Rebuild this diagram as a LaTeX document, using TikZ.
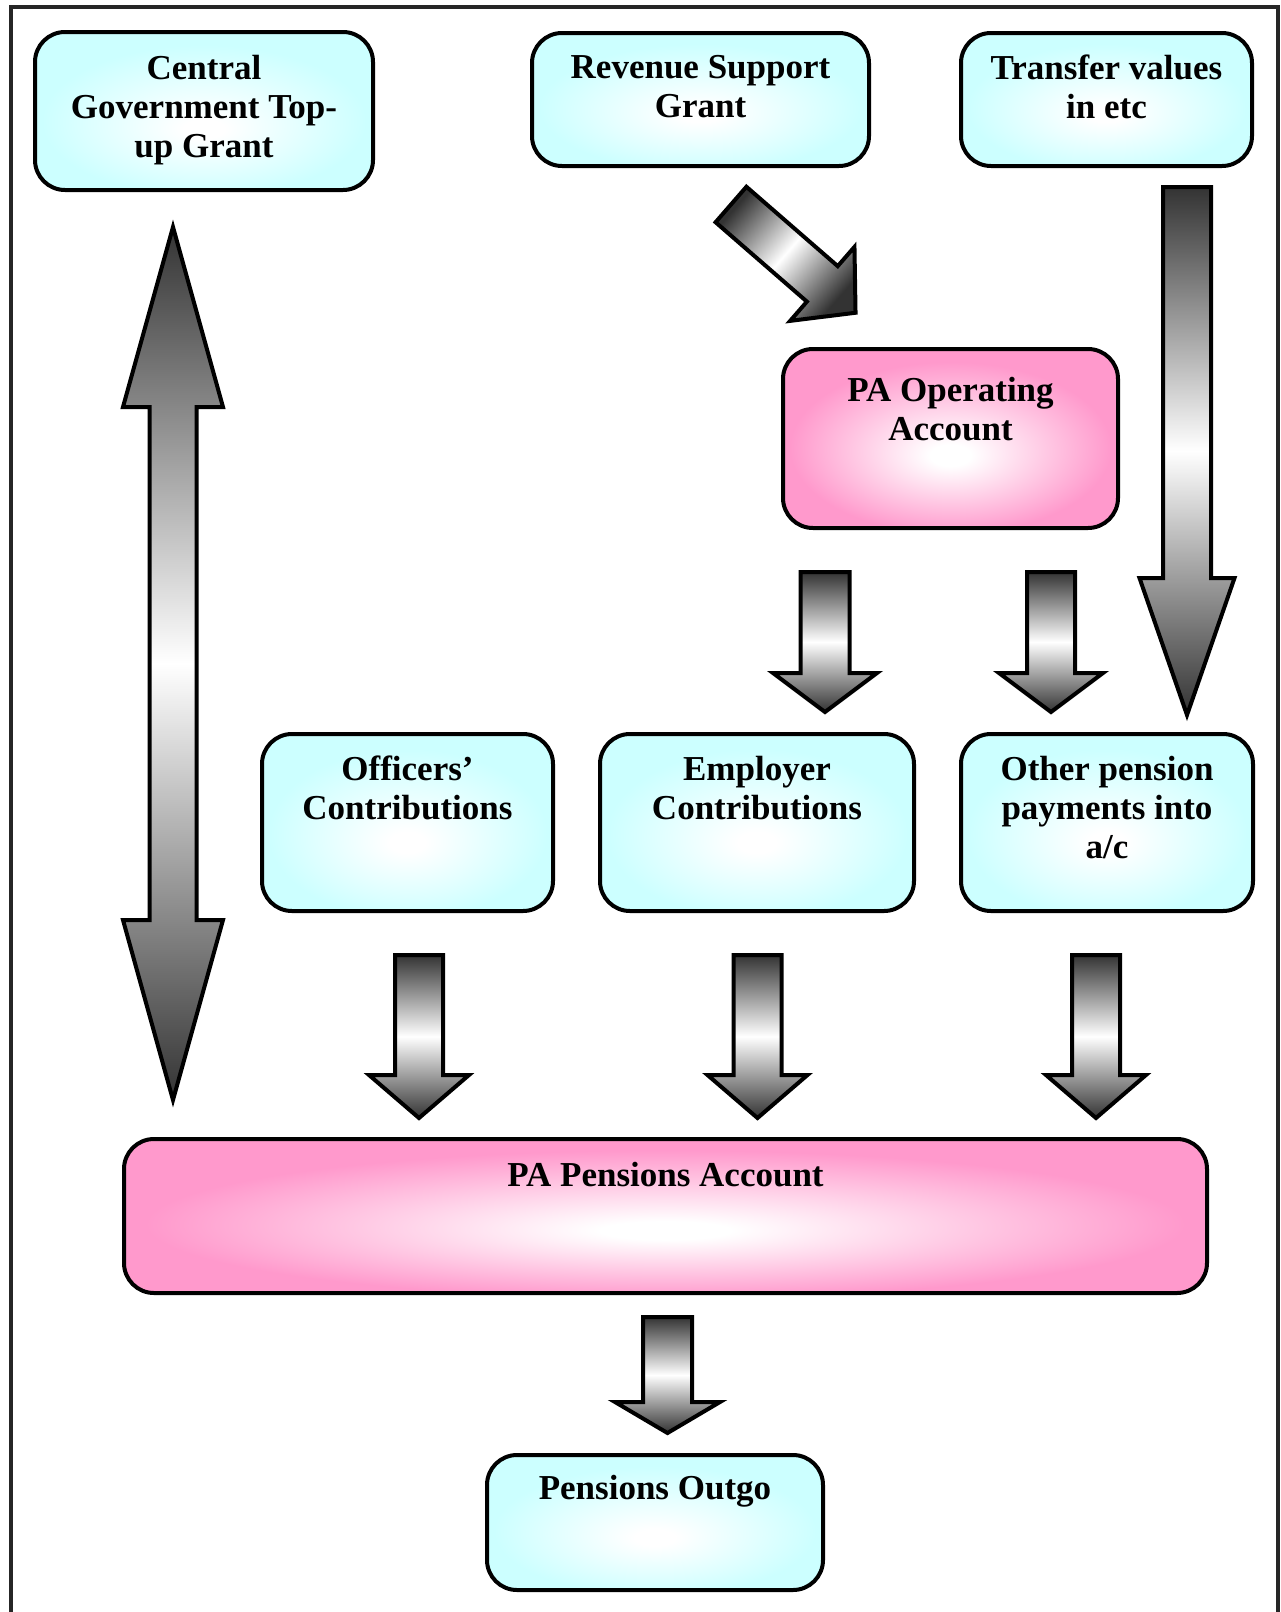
\documentclass[tikz,border=0pt]{standalone}
\usepackage{fontspec}
\setmainfont{Liberation Serif}
\definecolor{boxcyan}{HTML}{CCFFFF}
\definecolor{boxpink}{HTML}{FF99CC}
\definecolor{arrdark}{HTML}{333333}
\pgfdeclareradialshading{cyanglow}{\pgfpoint{0bp}{-6bp}}{color(0bp)=(white); color(3bp)=(white); color(24bp)=(boxcyan); color(50bp)=(boxcyan)}
\pgfdeclareradialshading{pinkglow}{\pgfpoint{0bp}{-5bp}}{color(0bp)=(white); color(3bp)=(white); color(24bp)=(boxpink); color(50bp)=(boxpink)}
\tikzset{
  box/.style={draw=black, line width=2pt, rounded corners=15pt, inner sep=0pt},
  cyanbox/.style={box, shade, shading=cyanglow},
  pinkbox/.style={box, shade, shading=pinkglow},
  boxtext/.style={font=\bfseries\fontsize{17.5pt}{19.5pt}\selectfont, align=center, inner sep=0pt, anchor=north},
  blockarr/.style={draw=black, line width=2pt, line join=miter, top color=arrdark, bottom color=arrdark, middle color=white},
  frameline/.style={draw=black!85, line width=2pt},
}
\newcommand\dnblock[6]{% cx, top, headstart, tip, shaft half, head half
  \draw[blockarr] (#1-#5,#2) -- (#1+#5,#2) -- (#1+#5,#3) -- (#1+#6,#3) -- (#1,#4) -- (#1-#6,#3) -- (#1-#5,#3) -- cycle;}
\begin{document}
\begin{tikzpicture}[x=0.5pt,y=-0.5pt]
\useasboundingbox (0,0) rectangle (1280,1612);
\draw[frameline] (11,1612) -- (11,7) -- (1278,7) -- (1278,1612);

% boxes
\node[cyanbox, minimum width=169pt, minimum height=79pt] (central) at (204,111) {};
\node[cyanbox, minimum width=168.5pt, minimum height=66.5pt] (rsg) at (700.5,99.5) {};
\node[cyanbox, minimum width=145.5pt, minimum height=66.5pt] (transfer) at (1106.5,99.5) {};
\node[pinkbox, minimum width=167.5pt, minimum height=89.5pt] (paop) at (950.5,438.5) {};
\node[cyanbox, minimum width=145.5pt, minimum height=88.5pt] (officers) at (407.5,822.5) {};
\node[cyanbox, minimum width=157pt, minimum height=88.5pt] (employer) at (757,822.5) {};
\node[cyanbox, minimum width=146pt, minimum height=88.5pt] (other) at (1107,822.5) {};
\node[pinkbox, minimum width=541.5pt, minimum height=77pt] (papens) at (665.5,1216) {};
\node[cyanbox, minimum width=168pt, minimum height=67.5pt] (outgo) at (655,1522.5) {};

% texts
\node[boxtext] (central-t) at ([yshift=-12.25pt]central.north) {Central\\Government Top-\\up Grant};
\node[boxtext] (rsg-t) at ([yshift=-11.75pt]rsg.north) {Revenue Support\\Grant};
\node[boxtext] (transfer-t) at ([yshift=-11.75pt]transfer.north) {Transfer values\\in etc};
\node[boxtext] (paop-t) at ([yshift=-14.75pt]paop.north) {PA Operating\\Account};
\node[boxtext] (officers-t) at ([yshift=-11.75pt]officers.north) {Officers’\\Contributions};
\node[boxtext] (employer-t) at ([yshift=-11.75pt]employer.north) {Employer\\Contributions};
\node[boxtext] (other-t) at ([yshift=-11.75pt]other.north) {Other pension\\payments into\\a/c};
\node[boxtext] (papens-t) at ([yshift=-12.25pt]papens.north) {PA Pensions Account};
\node[boxtext] (outgo-t) at ([yshift=-10.75pt]outgo.north) {Pensions Outgo};

% double arrow
\draw[blockarr] (173,227) -- (223,407) -- (196.5,407) -- (196.5,920) -- (223,920) -- (173,1100)
  -- (123,920) -- (149.5,920) -- (149.5,407) -- (123,407) -- cycle;

% diagonal arrow
\begin{scope}[shift={(731,204.5)}, rotate=-41]
\draw[blockarr, shading angle=49] (0,-23.5) -- (121,-23.5) -- (121,-49) -- (165,0) -- (121,49) -- (121,23.5) -- (0,23.5) -- cycle;
\end{scope}

% vertical arrows
\dnblock{1187}{187}{578}{715}{24}{47.5}
\dnblock{825}{572}{673}{712}{24.5}{52}
\dnblock{1051}{572}{673}{712}{24}{52}
\dnblock{419}{955}{1075}{1118}{24}{50}
\dnblock{757.5}{955}{1075}{1118}{24}{50}
\dnblock{1096}{955}{1075}{1118}{24}{50}
\dnblock{667.5}{1317}{1402}{1433}{24.5}{52.5}
\end{tikzpicture}
\end{document}
